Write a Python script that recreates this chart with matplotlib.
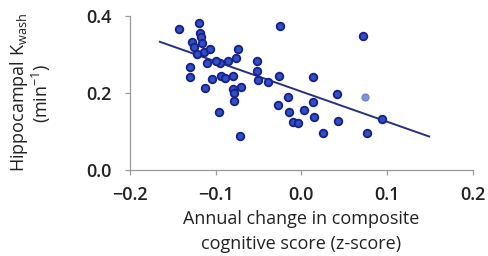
import matplotlib
matplotlib.use("Agg")
import matplotlib.pyplot as plt
import numpy as np

plt.rcParams['font.family'] = ['Open Sans', 'DejaVu Sans']
plt.rcParams['font.weight'] = 'semibold'
plt.rcParams['mathtext.fontset'] = 'custom'
plt.rcParams['mathtext.rm'] = 'Open Sans:semibold'

# annual change in composite cognitive score (z-score) vs hippocampal K
cog_change = [-0.143, -0.119, -0.118, -0.117, -0.128, -0.116, -0.113, -0.106,
              -0.110, -0.095, -0.085, -0.074, -0.076, -0.130, -0.130, -0.104,
              -0.094, -0.080, -0.112, -0.080, -0.078, -0.079, -0.096, -0.072,
              -0.052, -0.052, -0.051, -0.039, -0.025, -0.026, 0.014, -0.016,
              -0.027, -0.014, 0.003, 0.014, 0.015, -0.010, -0.004, 0.025,
              0.042, 0.043, 0.072, 0.076, 0.094, -0.099, -0.089, -0.125,
              -0.070, -0.122]
k_wash = [0.365, 0.383, 0.355, 0.345, 0.333, 0.331, 0.307, 0.313,
          0.277, 0.277, 0.283, 0.313, 0.290, 0.268, 0.241, 0.236,
          0.244, 0.244, 0.214, 0.210, 0.199, 0.180, 0.151, 0.087,
          0.283, 0.257, 0.234, 0.229, 0.374, 0.244, 0.241, 0.190,
          0.169, 0.151, 0.156, 0.177, 0.138, 0.125, 0.121, 0.097,
          0.197, 0.128, 0.348, 0.097, 0.132, 0.282, 0.240, 0.320,
          0.215, 0.300]
# light (faded) point
light_x = [0.074]
light_y = [0.190]

# regression line end points
fit_x = [-0.165, 0.149]
fit_y = [0.333, 0.087]

fig = plt.figure(figsize=(4.88, 2.56), dpi=100)
ax = fig.add_axes([0.266, 0.336, 0.703, 0.6015])

ax.plot(fit_x, fit_y, color='#27307f', lw=1.4, zorder=2)
ax.scatter(cog_change, k_wash, s=30, facecolor='#2f4fc4', edgecolor='#18208a',
           linewidth=1.3, zorder=3)
ax.scatter(light_x, light_y, s=24, facecolor='#7f95d8', edgecolor='#6f85cc',
           linewidth=1.0, zorder=3)

ax.set_xlim(-0.2, 0.2)
ax.set_ylim(0, 0.4)
ax.set_xticks([-0.2, -0.1, 0.0, 0.1, 0.2])
ax.set_yticks([0.0, 0.2, 0.4])
ax.set_xticklabels(['\u22120.2', '\u22120.1', '0.0', '0.1', '0.2'])
ax.set_yticklabels(['0.0', '0.2', '0.4'])

for s in ['top', 'right']:
    ax.spines[s].set_visible(False)
for s in ['left', 'bottom']:
    ax.spines[s].set_color('#9a9a9a')
    ax.spines[s].set_linewidth(0.9)
ax.tick_params(colors='#9a9a9a', length=3.5, width=0.9, labelsize=13,
               labelcolor='#222222')
ax.tick_params(axis='x', pad=8)
ax.tick_params(axis='y', pad=9.5)

ax.set_xlabel('Annual change in composite\ncognitive score (z-score)',
              fontsize=13, color='#222222', linespacing=1.5, labelpad=4)
ax.set_ylabel('Hippocampal K$_{\\mathregular{wash}}$\n(min$^{\\mathregular{-1}}$)',
              fontsize=13, color='#222222', linespacing=1.0, labelpad=24)

fig.savefig('out.png', dpi=100)
